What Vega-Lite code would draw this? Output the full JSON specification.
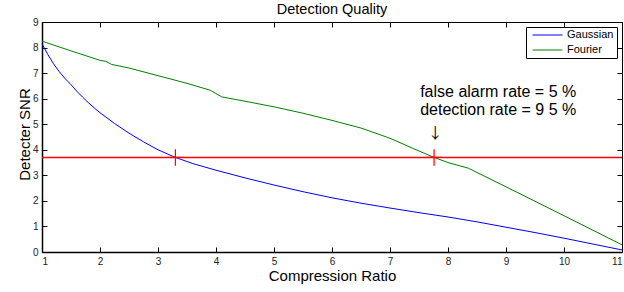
{
  "$schema": "https://vega.github.io/schema/vega-lite/v6.json",
  "width": 580,
  "height": 230,
  "autosize": "none",
  "padding": {"left": 42, "top": 22, "right": 2, "bottom": 40},
  "title": {"text": "Detection Quality", "font": "Liberation Sans", "fontSize": 14.5, "fontWeight": "normal", "color": "black", "offset": 0, "anchor": "middle"},
  "config": {
    "view": {"stroke": null},
    "font": "Liberation Sans",
    "axis": {"grid": false, "domainColor": "black", "tickColor": "black", "labelColor": "#222222", "labelFont": "Liberation Sans", "labelFontSize": 10, "tickSize": -5, "titleFont": "Liberation Sans", "titleFontSize": 15, "titleFontWeight": "normal", "titleColor": "black", "labelPadding": 9},
    "legend": {"orient": "top-right", "offset": 5, "strokeColor": "black", "fillColor": "white", "padding": 3, "symbolType": "stroke", "symbolSize": 900, "symbolStrokeWidth": 1, "symbolOffset": 3, "clipHeight": 10, "labelFont": "Liberation Sans", "labelFontSize": 11, "labelColor": "black", "rowPadding": 4, "labelOffset": 4}
  },
  "datasets": {
    "curves": [
      {"series": "Gaussian", "x": 1.0, "y": 8.15},
      {"series": "Gaussian", "x": 1.1, "y": 7.73},
      {"series": "Gaussian", "x": 1.2, "y": 7.36},
      {"series": "Gaussian", "x": 1.3, "y": 7.05},
      {"series": "Gaussian", "x": 1.4, "y": 6.78},
      {"series": "Gaussian", "x": 1.5, "y": 6.55},
      {"series": "Gaussian", "x": 1.6, "y": 6.29},
      {"series": "Gaussian", "x": 1.7, "y": 6.06},
      {"series": "Gaussian", "x": 1.8, "y": 5.84},
      {"series": "Gaussian", "x": 1.9, "y": 5.64},
      {"series": "Gaussian", "x": 2.0, "y": 5.45},
      {"series": "Gaussian", "x": 2.25, "y": 5.03},
      {"series": "Gaussian", "x": 2.5, "y": 4.65},
      {"series": "Gaussian", "x": 2.75, "y": 4.31},
      {"series": "Gaussian", "x": 3.0, "y": 4.0},
      {"series": "Gaussian", "x": 3.3, "y": 3.7},
      {"series": "Gaussian", "x": 3.6, "y": 3.46},
      {"series": "Gaussian", "x": 4.0, "y": 3.2},
      {"series": "Gaussian", "x": 4.5, "y": 2.9},
      {"series": "Gaussian", "x": 5.0, "y": 2.62},
      {"series": "Gaussian", "x": 5.5, "y": 2.36},
      {"series": "Gaussian", "x": 6.0, "y": 2.12},
      {"series": "Gaussian", "x": 6.5, "y": 1.91},
      {"series": "Gaussian", "x": 7.0, "y": 1.72},
      {"series": "Gaussian", "x": 7.5, "y": 1.54},
      {"series": "Gaussian", "x": 8.0, "y": 1.37},
      {"series": "Gaussian", "x": 8.5, "y": 1.18},
      {"series": "Gaussian", "x": 9.0, "y": 0.97},
      {"series": "Gaussian", "x": 9.5, "y": 0.76},
      {"series": "Gaussian", "x": 10.0, "y": 0.54},
      {"series": "Gaussian", "x": 10.5, "y": 0.31},
      {"series": "Gaussian", "x": 11.0, "y": 0.08},
      {"series": "Fourier", "x": 1.0, "y": 8.25},
      {"series": "Fourier", "x": 1.5, "y": 7.87},
      {"series": "Fourier", "x": 2.0, "y": 7.5},
      {"series": "Fourier", "x": 2.1, "y": 7.46},
      {"series": "Fourier", "x": 2.2, "y": 7.34},
      {"series": "Fourier", "x": 2.5, "y": 7.2},
      {"series": "Fourier", "x": 3.0, "y": 6.9},
      {"series": "Fourier", "x": 3.5, "y": 6.6},
      {"series": "Fourier", "x": 3.9, "y": 6.33},
      {"series": "Fourier", "x": 4.1, "y": 6.07},
      {"series": "Fourier", "x": 4.5, "y": 5.9},
      {"series": "Fourier", "x": 5.0, "y": 5.68},
      {"series": "Fourier", "x": 5.5, "y": 5.43},
      {"series": "Fourier", "x": 6.0, "y": 5.15},
      {"series": "Fourier", "x": 6.5, "y": 4.85},
      {"series": "Fourier", "x": 7.0, "y": 4.45},
      {"series": "Fourier", "x": 7.4, "y": 4.05},
      {"series": "Fourier", "x": 7.75, "y": 3.71},
      {"series": "Fourier", "x": 8.0, "y": 3.5},
      {"series": "Fourier", "x": 8.35, "y": 3.28},
      {"series": "Fourier", "x": 9.0, "y": 2.55},
      {"series": "Fourier", "x": 10.0, "y": 1.42},
      {"series": "Fourier", "x": 11.0, "y": 0.28}
    ],
    "threshold": [{"x": 1, "y": 3.7}, {"x": 11, "y": 3.7}],
    "crossings": [{"x": 3.3, "y": 3.7}, {"x": 7.76, "y": 3.7}],
    "notes": [
      {"x": 7.52, "y": 6.08, "label": "false alarm rate = 5 %"},
      {"x": 7.52, "y": 5.36, "label": "detection rate = 9 5 %"}
    ],
    "arrow": [{"x": 7.78, "y": 4.66, "label": "↓"}]
  },
  "layer": [
    {
      "data": {"name": "curves"},
      "mark": {"type": "line", "strokeWidth": 1},
      "encoding": {
        "x": {"field": "x", "type": "quantitative", "scale": {"domain": [1, 11], "nice": false, "zero": false},
              "axis": {"orient": "bottom", "values": [1,2,3,4,5,6,7,8,9,10,11], "title": "Compression Ratio", "titleBaseline": "alphabetic", "titleY": 28, "titleX": 290, "titleAlign": "center", "domainWidth": 1.5}},
        "y": {"field": "y", "type": "quantitative", "scale": {"domain": [0, 9], "nice": false, "zero": false},
              "axis": {"orient": "left", "values": [0,1,2,3,4,5,6,7,8,9], "title": "Detecter SNR", "titleBaseline": "alphabetic", "titleAngle": -90, "titleX": -13, "titleY": 112, "titleAlign": "center", "domainWidth": 1.5}},
        "color": {"field": "series", "type": "nominal", "sort": ["Gaussian", "Fourier"],
                  "scale": {"domain": ["Gaussian", "Fourier"], "range": ["#0000ff", "#008000"]},
                  "legend": {"title": null}},
        "order": {"field": "x", "type": "quantitative"}
      }
    },
    {
      "data": {"name": "threshold"},
      "mark": {"type": "line", "color": "#ff0000", "strokeWidth": 1.5},
      "encoding": {
        "x": {"field": "x", "type": "quantitative", "axis": null},
        "y": {"field": "y", "type": "quantitative", "axis": null}
      }
    },
    {
      "data": {"name": "crossings"},
      "mark": {"type": "point", "shape": "M0,-1V1M-1,0H1", "size": 272, "filled": false, "stroke": "#ff0000", "strokeWidth": 1.2, "opacity": 1},
      "encoding": {
        "x": {"field": "x", "type": "quantitative", "axis": {"orient": "top", "values": [1,2,3,4,5,6,7,8,9,10,11], "labels": false, "title": null, "domainWidth": 1}},
        "y": {"field": "y", "type": "quantitative", "axis": {"orient": "right", "values": [0,1,2,3,4,5,6,7,8,9], "labels": false, "title": null, "domainWidth": 1}}
      }
    },
    {
      "data": {"name": "notes"},
      "mark": {"type": "text", "align": "left", "baseline": "alphabetic", "font": "Liberation Sans", "fontSize": 16, "color": "black"},
      "encoding": {
        "x": {"field": "x", "type": "quantitative", "axis": null},
        "y": {"field": "y", "type": "quantitative", "axis": null},
        "text": {"field": "label"}
      }
    },
    {
      "data": {"name": "arrow"},
      "mark": {"type": "text", "align": "center", "baseline": "middle", "font": "Noto Sans CJK SC", "fontSize": 15, "color": "black"},
      "encoding": {
        "x": {"field": "x", "type": "quantitative", "axis": null},
        "y": {"field": "y", "type": "quantitative", "axis": null},
        "text": {"field": "label"}
      }
    }
  ],
  "resolve": {"axis": {"x": "independent", "y": "independent"}}
}
